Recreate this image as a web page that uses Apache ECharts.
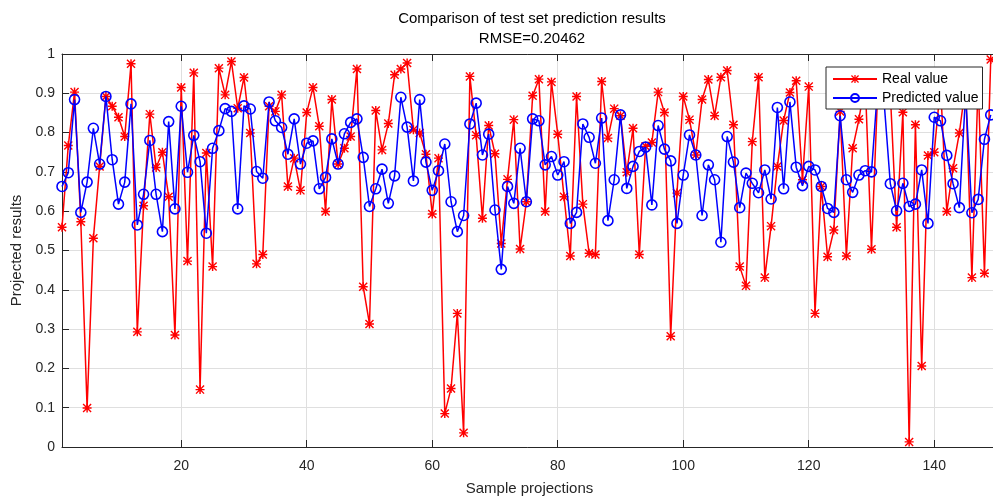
<!DOCTYPE html>
<html>
<head>
<meta charset="utf-8">
<title>Comparison of test set prediction results</title>
<script src="https://cdn.jsdelivr.net/npm/echarts@6/dist/echarts.min.js"></script>
<style>
  html, body { margin: 0; padding: 0; background: #fff; }
  #chart { width: 993px; height: 497px; }
</style>
</head>
<body>
<div id="chart"></div>
<script>
// values, sample 1..149
const realValues = [
  0.559, 0.767, 0.903, 0.573, 0.099, 0.531, 0.714, 0.892, 0.867, 0.839,
  0.790, 0.975, 0.293, 0.614, 0.847, 0.711, 0.750, 0.637, 0.285, 0.915,
  0.473, 0.952, 0.146, 0.748, 0.459, 0.964, 0.896, 0.981, 0.862, 0.940,
  0.799, 0.466, 0.490, 0.867, 0.854, 0.896, 0.663, 0.735, 0.653, 0.851,
  0.915, 0.816, 0.599, 0.884, 0.720, 0.760, 0.790, 0.962, 0.408, 0.313,
  0.856, 0.756, 0.823, 0.947, 0.962, 0.977, 0.807, 0.799, 0.745, 0.593,
  0.735, 0.085, 0.149, 0.340, 0.036, 0.943, 0.793, 0.582, 0.818, 0.746,
  0.518, 0.681, 0.833, 0.504, 0.624, 0.894, 0.936, 0.599, 0.929, 0.796,
  0.637, 0.486, 0.892, 0.618, 0.493, 0.490, 0.930, 0.786, 0.861, 0.843,
  0.699, 0.811, 0.490, 0.765, 0.775, 0.903, 0.851, 0.282, 0.646, 0.892,
  0.833, 0.743, 0.884, 0.935, 0.843, 0.941, 0.958, 0.820, 0.459, 0.410,
  0.777, 0.941, 0.431, 0.562, 0.714, 0.831, 0.902, 0.932, 0.680, 0.917,
  0.340, 0.663, 0.484, 0.552, 0.854, 0.486, 0.760, 0.834, 0.930, 0.503,
  0.910, 0.950, 0.900, 0.559, 0.852, 0.013, 0.820, 0.206, 0.742, 0.750,
  0.920, 0.599, 0.709, 0.799, 0.920, 0.431, 0.930, 0.442, 0.986
];
const predictedValues = [
  0.663, 0.698, 0.884, 0.597, 0.674, 0.811, 0.720, 0.892, 0.731, 0.618,
  0.674, 0.873, 0.565, 0.643, 0.780, 0.643, 0.548, 0.828, 0.606, 0.867,
  0.699, 0.793, 0.726, 0.544, 0.760, 0.805, 0.861, 0.854, 0.606, 0.868,
  0.860, 0.701, 0.684, 0.878, 0.830, 0.813, 0.745, 0.835, 0.720, 0.773,
  0.779, 0.657, 0.686, 0.784, 0.720, 0.797, 0.826, 0.835, 0.737, 0.612,
  0.657, 0.707, 0.620, 0.690, 0.890, 0.814, 0.677, 0.884, 0.725, 0.653,
  0.703, 0.771, 0.624, 0.548, 0.589, 0.822, 0.875, 0.743, 0.796, 0.603,
  0.452, 0.663, 0.620, 0.760, 0.624, 0.835, 0.830, 0.718, 0.739, 0.692,
  0.726, 0.569, 0.597, 0.822, 0.788, 0.722, 0.837, 0.576, 0.680, 0.845,
  0.658, 0.714, 0.752, 0.763, 0.616, 0.818, 0.758, 0.728, 0.569, 0.692,
  0.794, 0.743, 0.589, 0.718, 0.680, 0.521, 0.790, 0.725, 0.609, 0.697,
  0.671, 0.647, 0.705, 0.631, 0.864, 0.657, 0.878, 0.712, 0.665, 0.714,
  0.705, 0.663, 0.607, 0.597, 0.843, 0.680, 0.648, 0.692, 0.703, 0.700,
  0.920, 0.880, 0.670, 0.601, 0.671, 0.612, 0.618, 0.705, 0.569, 0.839,
  0.830, 0.742, 0.670, 0.609, 0.900, 0.596, 0.630, 0.783, 0.845
];
const xTicks = [20, 40, 60, 80, 100, 120, 140];

const FONT = '"Liberation Sans", Arial, sans-serif';
const AXIS_COLOR = '#262626';
const GRID_COLOR = '#dfdfdf';

// MATLAB-like '*' marker (plus + cross)
const asterisk = 'path://M0,4.2L10,4.2L10,5.8L0,5.8Z M4.2,0L5.8,0L5.8,10L4.2,10Z ' +
  'M1.1,0L10,8.9L8.9,10L0,1.1Z M8.9,0L10,1.1L1.1,10L0,8.9Z';

const toPoints = arr => arr.map((v, i) => [i + 1, v]);

const chart = echarts.init(document.getElementById('chart'));
chart.setOption({
  animation: false,
  backgroundColor: '#fff',
  title: {
    text: 'Comparison of test set prediction results\nRMSE=0.20462',
    left: 527,
    top: 4,
    textAlign: 'center',
    textStyle: { fontFamily: FONT, fontSize: 15, fontWeight: 'normal', color: '#000', lineHeight: 20 }
  },
  legend: {
    left: 826,
    top: 67,
    orient: 'vertical',
    backgroundColor: '#fff',
    borderColor: AXIS_COLOR,
    borderWidth: 1,
    borderRadius: 0,
    padding: [5, 4, 4, 6],
    itemGap: 5,
    itemWidth: 44,
    itemHeight: 10,
    textStyle: { fontFamily: FONT, fontSize: 14, color: '#000' },
    data: ['Real value', 'Predicted value']
  },
  grid: { left: 62, top: 54, bottom: 50, right: -4, outerBoundsMode: 'none' },
  xAxis: [{
    type: 'value',
    min: 1,
    max: 150,
    name: 'Sample projections',
    nameLocation: 'middle',
    nameGap: 34,
    nameTextStyle: { fontFamily: FONT, fontSize: 15, color: AXIS_COLOR },
    axisLine: { lineStyle: { color: AXIS_COLOR, width: 1 } },
    axisTick: { inside: true, length: 7, customValues: xTicks, lineStyle: { color: AXIS_COLOR } },
    axisLabel: { customValues: xTicks, fontFamily: FONT, fontSize: 14, color: AXIS_COLOR, margin: 12 },
    splitLine: { show: true, lineStyle: { color: GRID_COLOR, width: 1 } }
  }, {
    type: 'value',
    position: 'top',
    min: 1,
    max: 150,
    axisLine: { lineStyle: { color: AXIS_COLOR, width: 1 } },
    axisTick: { inside: true, length: 7, customValues: xTicks, lineStyle: { color: AXIS_COLOR } },
    axisLabel: { show: false },
    splitLine: { show: false }
  }],
  yAxis: {
    type: 'value',
    min: 0,
    max: 1,
    interval: 0.1,
    name: 'Projected results',
    nameLocation: 'middle',
    nameGap: 35,
    nameTextStyle: { fontFamily: FONT, fontSize: 15, color: AXIS_COLOR },
    axisLine: { show: true, lineStyle: { color: AXIS_COLOR, width: 1 } },
    axisTick: { show: true, inside: true, length: 7, lineStyle: { color: AXIS_COLOR } },
    axisLabel: { fontFamily: FONT, fontSize: 14, color: AXIS_COLOR, margin: 7 },
    splitLine: { show: true, lineStyle: { color: GRID_COLOR, width: 1 } }
  },
  series: [
    {
      name: 'Real value',
      type: 'line',
      data: toPoints(realValues),
      symbol: asterisk,
      symbolSize: 9,
      lineStyle: { color: '#ff0000', width: 1.5 },
      itemStyle: { color: '#ff0000' },
      z: 2
    },
    {
      name: 'Predicted value',
      type: 'line',
      data: toPoints(predictedValues),
      symbol: 'circle',
      symbolSize: 10,
      lineStyle: { color: '#0000ff', width: 1.5 },
      itemStyle: { color: 'rgba(255,255,255,0)', borderColor: '#0000ff', borderWidth: 1.6 },
      z: 3
    }
  ]
});
</script>
</body>
</html>
